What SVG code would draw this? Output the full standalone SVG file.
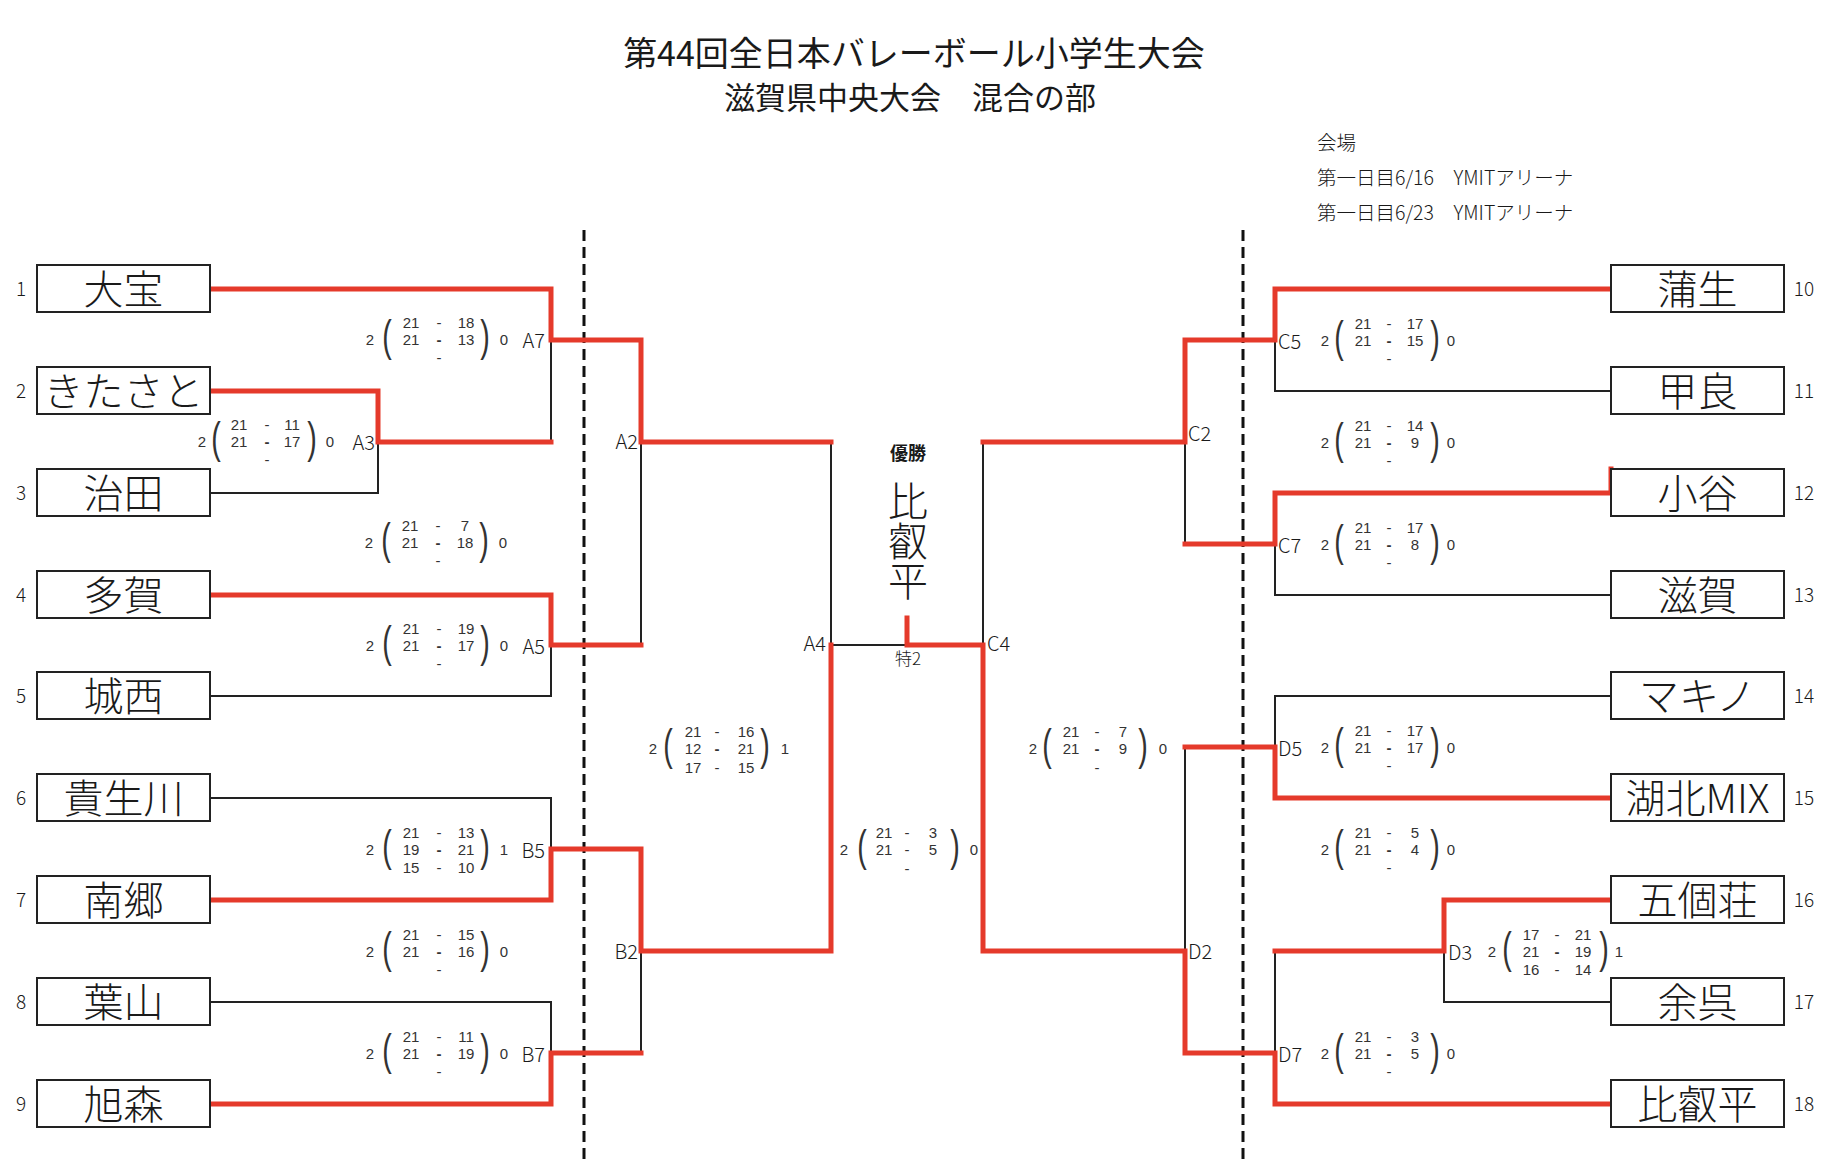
<svg xmlns="http://www.w3.org/2000/svg" width="1831" height="1175" viewBox="0 0 1831 1175">
<style>
text{font-family:"Noto Sans CJK JP","Noto Sans",sans-serif;fill:#1a1a1a}
.box{fill:#fff;stroke:#222;stroke-width:2}
.bl{fill:none;stroke:#222;stroke-width:2}
.rd{fill:none;stroke:#e53a2b;stroke-width:5;stroke-linecap:square;stroke-linejoin:miter}
.dash{fill:none;stroke:#111;stroke-width:3;stroke-dasharray:11 6}
.nm{font-size:40px;font-weight:300;text-anchor:middle;dominant-baseline:central}
.num{font-size:19px;font-weight:300;text-anchor:middle;dominant-baseline:central}
.sc{font-family:"Liberation Sans",sans-serif;font-size:15px;text-anchor:middle;dominant-baseline:central;fill:#333}
.dm{font-weight:bold}
.pa{font-family:"Liberation Sans",sans-serif;font-size:44px;text-anchor:middle;fill:#333}
.lb{font-size:20px;font-weight:300;dominant-baseline:central}
.le{text-anchor:end}
.ti{text-anchor:middle;dominant-baseline:central}
.vn{font-size:19.5px;font-weight:300;dominant-baseline:central}
</style>

<g id="title">
<text class="ti" x="914" y="51" font-size="34">第44回全日本バレーボール小学生大会</text>
<text class="ti" x="910" y="95" font-size="31">滋賀県中央大会　混合の部</text>
</g>
<g id="venue">
<text class="vn" x="1317" y="141">会場</text>
<text class="vn" x="1317" y="176">第一日目6/16　YMITアリーナ</text>
<text class="vn" x="1317" y="211">第一日目6/23　YMITアリーナ</text>
</g>

<g id="dividers">
<line class="dash" x1="584" y1="230" x2="584" y2="1162"/>
<line class="dash" x1="1243" y1="230" x2="1243" y2="1162"/>
</g>

<g id="connectors">
<path class="bl" d="M551 340V442 M378 442V493H210 M551 645V696H210 M210 798H551V849 M210 1002H551V1053 M641 442V645 M641 951V1053 M831 442V645H907 M983 442V645 M1185 442V544 M1275 340V391H1611 M1275 544V595H1611 M1611 696H1275V747 M1185 747V951 M1444 951V1002H1611 M1275 951V1053"/>
<path class="rd" d="M210 289H551V340H641V442H831"/>
<path class="rd" d="M210 391H378V442H551"/>
<path class="rd" d="M210 595H551V645H641"/>
<path class="rd" d="M210 900H551V849H641V951H831V645"/>
<path class="rd" d="M210 1104H551V1053H641"/>
<path class="rd" d="M907 618V645H983V951H1185V1053H1275V1104H1611"/>
<path class="rd" d="M1611 289H1275V340H1185V442H983"/>
<path class="rd" d="M1611 469V493H1275V544H1185"/>
<path class="rd" d="M1611 798H1275V747H1185"/>
<path class="rd" d="M1611 900H1444V951H1275"/>
</g>

<g id="team-1"><rect class="box" x="37" y="265" width="173" height="47"/><text class="nm" x="123.5" y="287">大宝</text><text class="num" x="21" y="287">1</text></g>
<g id="team-2"><rect class="box" x="37" y="367" width="173" height="47"/><text class="nm" x="123.5" y="389">きたさと</text><text class="num" x="21" y="389">2</text></g>
<g id="team-3"><rect class="box" x="37" y="469" width="173" height="47"/><text class="nm" x="123.5" y="491">治田</text><text class="num" x="21" y="491">3</text></g>
<g id="team-4"><rect class="box" x="37" y="571" width="173" height="47"/><text class="nm" x="123.5" y="593">多賀</text><text class="num" x="21" y="593">4</text></g>
<g id="team-5"><rect class="box" x="37" y="672" width="173" height="47"/><text class="nm" x="123.5" y="694">城西</text><text class="num" x="21" y="694">5</text></g>
<g id="team-6"><rect class="box" x="37" y="774" width="173" height="47"/><text class="nm" x="123.5" y="796">貴生川</text><text class="num" x="21" y="796">6</text></g>
<g id="team-7"><rect class="box" x="37" y="876" width="173" height="47"/><text class="nm" x="123.5" y="898">南郷</text><text class="num" x="21" y="898">7</text></g>
<g id="team-8"><rect class="box" x="37" y="978" width="173" height="47"/><text class="nm" x="123.5" y="1000">葉山</text><text class="num" x="21" y="1000">8</text></g>
<g id="team-9"><rect class="box" x="37" y="1080" width="173" height="47"/><text class="nm" x="123.5" y="1102">旭森</text><text class="num" x="21" y="1102">9</text></g>

<g id="team-10"><rect class="box" x="1611" y="265" width="173" height="47"/><text class="nm" x="1697.5" y="287">蒲生</text><text class="num" x="1804" y="287">10</text></g>
<g id="team-11"><rect class="box" x="1611" y="367" width="173" height="47"/><text class="nm" x="1697.5" y="389">甲良</text><text class="num" x="1804" y="389">11</text></g>
<g id="team-12"><rect class="box" x="1611" y="469" width="173" height="47"/><text class="nm" x="1697.5" y="491">小谷</text><text class="num" x="1804" y="491">12</text></g>
<g id="team-13"><rect class="box" x="1611" y="571" width="173" height="47"/><text class="nm" x="1697.5" y="593">滋賀</text><text class="num" x="1804" y="593">13</text></g>
<g id="team-14"><rect class="box" x="1611" y="672" width="173" height="47"/><text class="nm" x="1697.5" y="694">マキノ</text><text class="num" x="1804" y="694">14</text></g>
<g id="team-15"><rect class="box" x="1611" y="774" width="173" height="47"/><text class="nm" x="1697.5" y="796">湖北MIX</text><text class="num" x="1804" y="796">15</text></g>
<g id="team-16"><rect class="box" x="1611" y="876" width="173" height="47"/><text class="nm" x="1697.5" y="898">五個荘</text><text class="num" x="1804" y="898">16</text></g>
<g id="team-17"><rect class="box" x="1611" y="978" width="173" height="47"/><text class="nm" x="1697.5" y="1000">余呉</text><text class="num" x="1804" y="1000">17</text></g>
<g id="team-18"><rect class="box" x="1611" y="1080" width="173" height="47"/><text class="nm" x="1697.5" y="1102">比叡平</text><text class="num" x="1804" y="1102">18</text></g>

<g id="champion">
<text class="ti" x="908" y="452" font-size="18" font-weight="bold">優勝</text>
<text x="908" y="541" font-size="40" font-weight="300" writing-mode="vertical-rl" text-anchor="middle">比叡平</text>
<text class="ti" x="908" y="657" font-size="17" font-weight="300" fill="#333">特2</text>
</g>

<g id="round-labels">
<text class="lb le" x="638" y="440">A2</text>
<text class="lb le" x="638" y="950">B2</text>
<text class="lb le" x="826" y="642">A4</text>
<text class="lb" x="987" y="642">C4</text>
<text class="lb" x="1188" y="432">C2</text>
<text class="lb" x="1188" y="950">D2</text>
</g>

<g id="score-A7" transform="translate(370,339)">
<text class="sc" x="0" y="0">2</text><text class="pa" transform="translate(17,12) scale(0.65,1)">(</text>
<text class="sc" x="41" y="-17">21</text><text class="sc" x="69" y="-17">-</text><text class="sc" x="96" y="-17">18</text>
<text class="sc" x="41" y="0">21</text><text class="sc dm" x="69" y="0">-</text><text class="sc" x="96" y="0">13</text>
<text class="sc" x="69" y="18">-</text>
<text class="pa" transform="translate(115,12) scale(0.65,1)">)</text><text class="sc" x="134" y="0">0</text>
<text class="lb le" x="175" y="0">A7</text>
</g>
<g id="score-A3" transform="translate(202,441)">
<text class="sc" x="0" y="0">2</text><text class="pa" transform="translate(14,12) scale(0.65,1)">(</text>
<text class="sc" x="37" y="-17">21</text><text class="sc" x="65" y="-17">-</text><text class="sc" x="90" y="-17">11</text>
<text class="sc" x="37" y="0">21</text><text class="sc dm" x="65" y="0">-</text><text class="sc" x="90" y="0">17</text>
<text class="sc" x="65" y="18">-</text>
<text class="pa" transform="translate(110,12) scale(0.65,1)">)</text><text class="sc" x="128" y="0">0</text>
<text class="lb le" x="173" y="0">A3</text>
</g>
<g id="score-A2" transform="translate(369,542)">
<text class="sc" x="0" y="0">2</text><text class="pa" transform="translate(17,12) scale(0.65,1)">(</text>
<text class="sc" x="41" y="-17">21</text><text class="sc" x="69" y="-17">-</text><text class="sc" x="96" y="-17">7</text>
<text class="sc" x="41" y="0">21</text><text class="sc dm" x="69" y="0">-</text><text class="sc" x="96" y="0">18</text>
<text class="sc" x="69" y="18">-</text>
<text class="pa" transform="translate(115,12) scale(0.65,1)">)</text><text class="sc" x="134" y="0">0</text>
</g>
<g id="score-A5" transform="translate(370,645)">
<text class="sc" x="0" y="0">2</text><text class="pa" transform="translate(17,12) scale(0.65,1)">(</text>
<text class="sc" x="41" y="-17">21</text><text class="sc" x="69" y="-17">-</text><text class="sc" x="96" y="-17">19</text>
<text class="sc" x="41" y="0">21</text><text class="sc dm" x="69" y="0">-</text><text class="sc" x="96" y="0">17</text>
<text class="sc" x="69" y="18">-</text>
<text class="pa" transform="translate(115,12) scale(0.65,1)">)</text><text class="sc" x="134" y="0">0</text>
<text class="lb le" x="175" y="0">A5</text>
</g>
<g id="score-B5" transform="translate(370,849)">
<text class="sc" x="0" y="0">2</text><text class="pa" transform="translate(17,12) scale(0.65,1)">(</text>
<text class="sc" x="41" y="-17">21</text><text class="sc" x="69" y="-17">-</text><text class="sc" x="96" y="-17">13</text>
<text class="sc" x="41" y="0">19</text><text class="sc dm" x="69" y="0">-</text><text class="sc" x="96" y="0">21</text>
<text class="sc" x="41" y="18">15</text><text class="sc" x="69" y="18">-</text><text class="sc" x="96" y="18">10</text>
<text class="pa" transform="translate(115,12) scale(0.65,1)">)</text><text class="sc" x="134" y="0">1</text>
<text class="lb le" x="175" y="0">B5</text>
</g>
<g id="score-B2" transform="translate(370,951)">
<text class="sc" x="0" y="0">2</text><text class="pa" transform="translate(17,12) scale(0.65,1)">(</text>
<text class="sc" x="41" y="-17">21</text><text class="sc" x="69" y="-17">-</text><text class="sc" x="96" y="-17">15</text>
<text class="sc" x="41" y="0">21</text><text class="sc dm" x="69" y="0">-</text><text class="sc" x="96" y="0">16</text>
<text class="sc" x="69" y="18">-</text>
<text class="pa" transform="translate(115,12) scale(0.65,1)">)</text><text class="sc" x="134" y="0">0</text>
</g>
<g id="score-B7" transform="translate(370,1053)">
<text class="sc" x="0" y="0">2</text><text class="pa" transform="translate(17,12) scale(0.65,1)">(</text>
<text class="sc" x="41" y="-17">21</text><text class="sc" x="69" y="-17">-</text><text class="sc" x="96" y="-17">11</text>
<text class="sc" x="41" y="0">21</text><text class="sc dm" x="69" y="0">-</text><text class="sc" x="96" y="0">19</text>
<text class="sc" x="69" y="18">-</text>
<text class="pa" transform="translate(115,12) scale(0.65,1)">)</text><text class="sc" x="134" y="0">0</text>
<text class="lb le" x="175" y="0">B7</text>
</g>
<g id="score-A4" transform="translate(653,748)">
<text class="sc" x="0" y="0">2</text><text class="pa" transform="translate(15,12) scale(0.65,1)">(</text>
<text class="sc" x="40" y="-17">21</text><text class="sc" x="64" y="-17">-</text><text class="sc" x="93" y="-17">16</text>
<text class="sc" x="40" y="0">12</text><text class="sc dm" x="64" y="0">-</text><text class="sc" x="93" y="0">21</text>
<text class="sc" x="40" y="19">17</text><text class="sc" x="64" y="19">-</text><text class="sc" x="93" y="19">15</text>
<text class="pa" transform="translate(112,12) scale(0.65,1)">)</text><text class="sc" x="132" y="0">1</text>
</g>
<g id="score-final" transform="translate(844,849)">
<text class="sc" x="0" y="0">2</text><text class="pa" transform="translate(18,12) scale(0.65,1)">(</text>
<text class="sc" x="40" y="-17">21</text><text class="sc" x="63" y="-17">-</text><text class="sc" x="89" y="-17">3</text>
<text class="sc" x="40" y="0">21</text><text class="sc" x="63" y="0">-</text><text class="sc" x="89" y="0">5</text>
<text class="sc" x="63" y="19">-</text>
<text class="pa" transform="translate(111,12) scale(0.65,1)">)</text><text class="sc" x="130" y="0">0</text>
</g>
<g id="score-D2m" transform="translate(1033,748)">
<text class="sc" x="0" y="0">2</text><text class="pa" transform="translate(14,12) scale(0.65,1)">(</text>
<text class="sc" x="38" y="-17">21</text><text class="sc" x="64" y="-17">-</text><text class="sc" x="90" y="-17">7</text>
<text class="sc" x="38" y="0">21</text><text class="sc dm" x="64" y="0">-</text><text class="sc" x="90" y="0">9</text>
<text class="sc" x="64" y="19">-</text>
<text class="pa" transform="translate(110,12) scale(0.65,1)">)</text><text class="sc" x="130" y="0">0</text>
</g>

<g id="score-C5" transform="translate(1325,340)">
<text class="lb" x="-47" y="0">C5</text>
<text class="sc" x="0" y="0">2</text><text class="pa" transform="translate(14,12) scale(0.65,1)">(</text>
<text class="sc" x="38" y="-17">21</text><text class="sc" x="64" y="-17">-</text><text class="sc" x="90" y="-17">17</text>
<text class="sc" x="38" y="0">21</text><text class="sc dm" x="64" y="0">-</text><text class="sc" x="90" y="0">15</text>
<text class="sc" x="64" y="18">-</text>
<text class="pa" transform="translate(110,12) scale(0.65,1)">)</text><text class="sc" x="126" y="0">0</text>
</g>
<g id="score-C2m" transform="translate(1325,442)">
<text class="sc" x="0" y="0">2</text><text class="pa" transform="translate(14,12) scale(0.65,1)">(</text>
<text class="sc" x="38" y="-17">21</text><text class="sc" x="64" y="-17">-</text><text class="sc" x="90" y="-17">14</text>
<text class="sc" x="38" y="0">21</text><text class="sc dm" x="64" y="0">-</text><text class="sc" x="90" y="0">9</text>
<text class="sc" x="64" y="18">-</text>
<text class="pa" transform="translate(110,12) scale(0.65,1)">)</text><text class="sc" x="126" y="0">0</text>
</g>
<g id="score-C7" transform="translate(1325,544)">
<text class="lb" x="-47" y="0">C7</text>
<text class="sc" x="0" y="0">2</text><text class="pa" transform="translate(14,12) scale(0.65,1)">(</text>
<text class="sc" x="38" y="-17">21</text><text class="sc" x="64" y="-17">-</text><text class="sc" x="90" y="-17">17</text>
<text class="sc" x="38" y="0">21</text><text class="sc dm" x="64" y="0">-</text><text class="sc" x="90" y="0">8</text>
<text class="sc" x="64" y="18">-</text>
<text class="pa" transform="translate(110,12) scale(0.65,1)">)</text><text class="sc" x="126" y="0">0</text>
</g>
<g id="score-D5" transform="translate(1325,747)">
<text class="lb" x="-47" y="0">D5</text>
<text class="sc" x="0" y="0">2</text><text class="pa" transform="translate(14,12) scale(0.65,1)">(</text>
<text class="sc" x="38" y="-17">21</text><text class="sc" x="64" y="-17">-</text><text class="sc" x="90" y="-17">17</text>
<text class="sc" x="38" y="0">21</text><text class="sc dm" x="64" y="0">-</text><text class="sc" x="90" y="0">17</text>
<text class="sc" x="64" y="18">-</text>
<text class="pa" transform="translate(110,12) scale(0.65,1)">)</text><text class="sc" x="126" y="0">0</text>
</g>
<g id="score-Dm" transform="translate(1325,849)">
<text class="sc" x="0" y="0">2</text><text class="pa" transform="translate(14,12) scale(0.65,1)">(</text>
<text class="sc" x="38" y="-17">21</text><text class="sc" x="64" y="-17">-</text><text class="sc" x="90" y="-17">5</text>
<text class="sc" x="38" y="0">21</text><text class="sc dm" x="64" y="0">-</text><text class="sc" x="90" y="0">4</text>
<text class="sc" x="64" y="18">-</text>
<text class="pa" transform="translate(110,12) scale(0.65,1)">)</text><text class="sc" x="126" y="0">0</text>
</g>
<g id="score-D3" transform="translate(1492,951)">
<text class="lb" x="-44" y="0">D3</text>
<text class="sc" x="0" y="0">2</text><text class="pa" transform="translate(15,12) scale(0.65,1)">(</text>
<text class="sc" x="39" y="-17">17</text><text class="sc" x="65" y="-17">-</text><text class="sc" x="91" y="-17">21</text>
<text class="sc" x="39" y="0">21</text><text class="sc dm" x="65" y="0">-</text><text class="sc" x="91" y="0">19</text>
<text class="sc" x="39" y="18">16</text><text class="sc" x="65" y="18">-</text><text class="sc" x="91" y="18">14</text>
<text class="pa" transform="translate(112,12) scale(0.65,1)">)</text><text class="sc" x="127" y="0">1</text>
</g>
<g id="score-D7" transform="translate(1325,1053)">
<text class="lb" x="-47" y="0">D7</text>
<text class="sc" x="0" y="0">2</text><text class="pa" transform="translate(14,12) scale(0.65,1)">(</text>
<text class="sc" x="38" y="-17">21</text><text class="sc" x="64" y="-17">-</text><text class="sc" x="90" y="-17">3</text>
<text class="sc" x="38" y="0">21</text><text class="sc dm" x="64" y="0">-</text><text class="sc" x="90" y="0">5</text>
<text class="sc" x="64" y="18">-</text>
<text class="pa" transform="translate(110,12) scale(0.65,1)">)</text><text class="sc" x="126" y="0">0</text>
</g>
</svg>
